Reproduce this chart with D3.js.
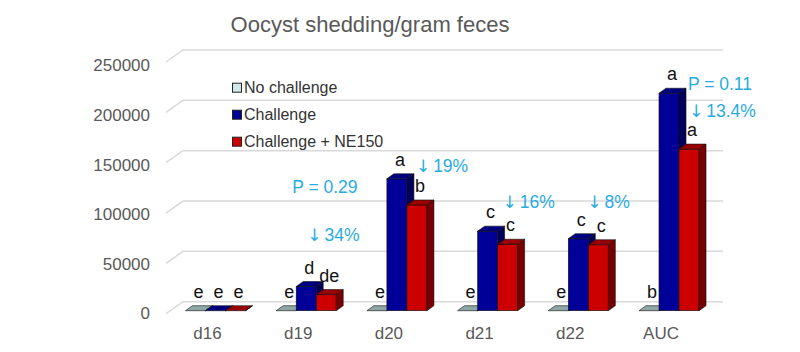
<!DOCTYPE html>
<html>
<head>
<meta charset="utf-8">
<script src="https://cdn.jsdelivr.net/npm/d3@7"></script>
<style>
  body { margin: 0; background: #fff; }
  svg { font-family: "Liberation Sans", Arial, sans-serif; }
  .axis .domain { display: none; }
  .axis text { fill: #595959; font-size: 17px; }
</style>
</head>
<body>
<div id="chart"></div>
<script>
'use strict';

// data
var categories = ['d16', 'd19', 'd20', 'd21', 'd22', 'AUC'];
var seriesNames = ['No challenge', 'Challenge', 'Challenge + NE150'];
var noChallenge = [0, 0, 0, 0, 0, 0];
var challenge = [0, 24000, 131000, 79000, 71500, 216000];
var challengeNE150 = [0, 16000, 105000, 66000, 65500, 160500];
var noChallengeLetters = ['e', 'e', 'e', 'e', 'e', 'b'];
var challengeLetters = ['e', 'd', 'a', 'c', 'c', 'a'];
var ne150Letters = ['e', 'de', 'b', 'c', 'c', 'a'];
var yTicks = [0, 50000, 100000, 150000, 200000, 250000];
var noteCats = ['d19', 'd19', 'd20', 'd21', 'd22', 'AUC', 'AUC'];
var noteArrows = [false, true, true, true, true, false, true];
var noteTexts = ['P = 0.29', '34%', '19%', '16%', '8%', 'P = 0.11', '13.4%'];

var width = 800, height = 352;
var depth = {dx: 7, dy: -5};      // bar top/side offset
var floor = {dx: -17, dy: 12};    // wall -> front of floor
var barShift = 9;                 // bars sit a little in front of the wall

// colours: front, top, side
var colors = [
  {front: '#a3b6b6', top: '#8fa6a6', side: '#6f8585', swatch: '#cfe8e8'},
  {front: '#000099', top: '#000080', side: '#00005a', swatch: '#000099'},
  {front: '#cc0000', top: '#990000', side: '#770000', swatch: '#cc0000'}
];

var values = [noChallenge, challenge, challengeNE150];
var letters = [noChallengeLetters, challengeLetters, ne150Letters];

var svg = d3.select('#chart').append('svg')
  .attr('width', width)
  .attr('height', height);

// scales
var x = d3.scaleBand()
  .domain(categories)
  .range([170.15, 714.35])
  .paddingInner(0.338)
  .paddingOuter(0.169);

var xSeries = d3.scaleBand()
  .domain(d3.range(seriesNames.length))
  .range([0, x.bandwidth()]);

var y = d3.scaleLinear()
  .domain([0, 250000])
  .range([301.7, 50]);

var yLabel = d3.scaleLinear()
  .domain([0, 250000])
  .range([313.5, 65.5]);

// title
svg.append('text')
  .attr('x', 370)
  .attr('y', 31.5)
  .attr('text-anchor', 'middle')
  .attr('fill', '#595959')
  .attr('font-size', '22px')
  .text('Oocyst shedding/gram feces');

// gridlines on the back wall
var grid = svg.append('g').attr('class', 'grid');
grid.selectAll('path')
  .data(yTicks)
  .enter()
  .append('path')
  .attr('d', function(d) {
    var yy = y(d);
    return 'M' + (183 + floor.dx) + ',' + (yy + floor.dy) + 'L183,' + yy + 'L723,' + yy;
  })
  .attr('fill', 'none')
  .attr('stroke', '#d9d9d9')
  .attr('stroke-width', 1.5);

// y axis
var yAxis = d3.axisLeft(yLabel)
  .tickValues(yTicks)
  .tickSize(0)
  .tickPadding(0)
  .tickFormat(d3.format('d'));
svg.append('g')
  .attr('class', 'y axis')
  .attr('transform', 'translate(150,0)')
  .call(yAxis);

// x axis
var xAxis = d3.axisBottom(x).tickSize(0).tickPadding(0);
svg.append('g')
  .attr('class', 'x axis')
  .attr('transform', 'translate(-8,339)')
  .call(xAxis)
  .selectAll('text')
  .attr('dy', null)
  .attr('y', 0);

// bars
var bars = [];
categories.forEach(function(c, i) {
  values.forEach(function(vals, s) {
    bars.push({cat: c, s: s, value: vals[i], letter: letters[s][i]});
  });
});

var barG = svg.append('g').attr('class', 'bars')
  .selectAll('g')
  .data(bars)
  .enter()
  .append('g')
  .attr('class', 'bar');

function bx(d) { return x(d.cat) + xSeries(d.s); }
function byTop(d) { return y(d.value) + barShift; }
var yBase = y(0) + barShift;
var bw = xSeries.bandwidth();

barG.append('rect')
  .attr('x', bx)
  .attr('y', byTop)
  .attr('width', bw)
  .attr('height', function(d) { return yBase - byTop(d); })
  .attr('fill', function(d) { return colors[d.s].front; })
  .attr('stroke', '#111')
  .attr('stroke-width', 0.6);

barG.append('path')
  .attr('d', function(d) {
    var x0 = bx(d), t = byTop(d);
    return 'M' + x0 + ',' + t +
      'L' + (x0 + depth.dx) + ',' + (t + depth.dy) +
      'L' + (x0 + bw + depth.dx) + ',' + (t + depth.dy) +
      'L' + (x0 + bw) + ',' + t + 'Z';
  })
  .attr('fill', function(d) { return colors[d.s].top; })
  .attr('stroke', '#111')
  .attr('stroke-width', 0.6);

barG.append('path')
  .attr('d', function(d) {
    var x1 = bx(d) + bw, t = byTop(d);
    return 'M' + x1 + ',' + t +
      'L' + (x1 + depth.dx) + ',' + (t + depth.dy) +
      'L' + (x1 + depth.dx) + ',' + (yBase + depth.dy) +
      'L' + x1 + ',' + yBase + 'Z';
  })
  .attr('fill', function(d) { return colors[d.s].side; })
  .attr('stroke', '#111')
  .attr('stroke-width', 0.6);

// significance letters
svg.append('g').attr('class', 'letters')
  .selectAll('text')
  .data(bars)
  .enter()
  .append('text')
  .attr('x', function(d) { return bx(d) + bw / 2 + 3; })
  .attr('y', function(d) { return byTop(d) + depth.dy - 8; })
  .attr('text-anchor', 'middle')
  .attr('font-size', '18px')
  .attr('fill', '#111')
  .text(function(d) { return d.letter; });

// blue notes (offsets from group start, value level)
var noteLayout = [
  {dx: 16, v: 108000},
  {dx: 31, v: 60000},
  {dx: 49, v: 129000},
  {dx: 45, v: 93000},
  {dx: 39, v: 93000},
  {dx: 49, v: 210000},
  {dx: 50, v: 183500}
];
var notes = svg.append('g').attr('class', 'notes')
  .selectAll('text')
  .data(noteTexts)
  .enter()
  .append('text')
  .attr('x', function(d, i) { return x(noteCats[i]) + noteLayout[i].dx; })
  .attr('y', function(d, i) { return y(noteLayout[i].v); })
  .attr('font-size', '17.5px')
  .attr('fill', '#29abe2');

notes.filter(function(d, i) { return noteArrows[i]; })
  .append('tspan')
  .attr('font-family', '"DejaVu Sans", sans-serif')
  .attr('font-size', '17px')
  .text('\u2193');

notes.append('tspan')
  .attr('dx', function(d, i) { return noteArrows[i] ? 3 : 0; })
  .text(function(d) { return d; });

// legend
var legend = svg.append('g').attr('class', 'legend')
  .selectAll('g')
  .data(seriesNames)
  .enter()
  .append('g')
  .attr('transform', function(d, i) { return 'translate(232,' + (87.7 + i * 27) + ')'; });

legend.append('rect')
  .attr('x', 0.5)
  .attr('y', -4.5)
  .attr('width', 9)
  .attr('height', 9)
  .attr('fill', function(d, i) { return colors[i].swatch; })
  .attr('stroke', '#222')
  .attr('stroke-width', 1);

legend.append('text')
  .attr('x', 12)
  .attr('y', 0)
  .attr('dy', '0.35em')
  .attr('font-size', '16px')
  .attr('fill', '#333')
  .text(function(d) { return d; });
</script>
</body>
</html>
